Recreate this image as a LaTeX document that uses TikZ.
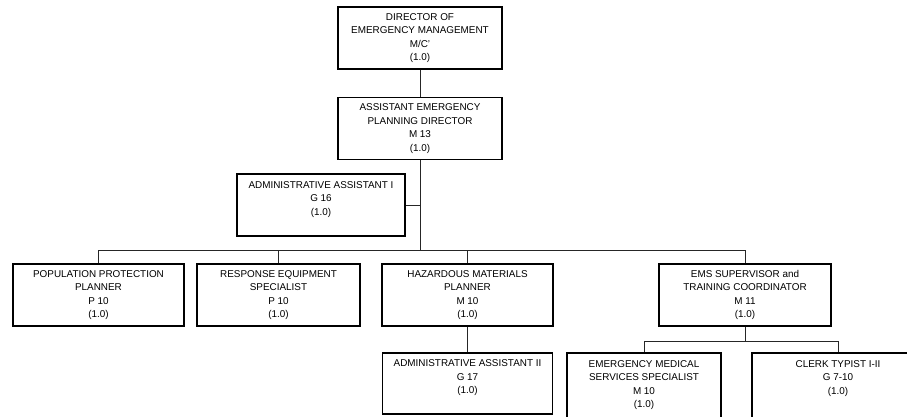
\documentclass[tikz,border=0pt]{standalone}
\usepackage{fontspec}
\setmainfont{Liberation Sans}
\begin{document}
\begin{tikzpicture}[x=1pt,y=1pt,
  box/.style={draw=black, line width=1.1pt, minimum height=62pt, align=center,
    inner sep=0pt, font=\fontsize{9.9}{13.5}\selectfont},
  link/.style={draw=black!85, line width=0.8pt}]
\useasboundingbox (0,0) rectangle (907,-416);
\begin{scope}
\clip (0,0) rectangle (907,-416);
% level 1 and 2
\node[box, minimum width=164pt] (dir) at (420,-38) {DIRECTOR OF\\EMERGENCY MANAGEMENT\\M/C'\\(1.0)};
\node[box, minimum width=164pt] (asst) at (420,-128.5) {ASSISTANT EMERGENCY\\PLANNING DIRECTOR\\M 13\\(1.0)};
\node[box, minimum width=168pt] (adm1) at (321,-205) {ADMINISTRATIVE ASSISTANT I\\G 16\\(1.0)\\\mbox{}};
% level 3
\node[box, minimum width=171pt] (pop) at (98.5,-295) {POPULATION PROTECTION\\PLANNER\\P 10\\(1.0)};
\node[box, minimum width=163pt] (resp) at (278.5,-295) {RESPONSE EQUIPMENT\\SPECIALIST\\P 10\\(1.0)};
\node[box, minimum width=171pt] (haz) at (467.5,-295) {HAZARDOUS MATERIALS\\PLANNER\\M 10\\(1.0)};
\node[box, minimum width=172pt] (ems) at (745,-295) {EMS SUPERVISOR and\\TRAINING COORDINATOR\\M 11\\(1.0)};
% level 4
\node[box, minimum width=170pt, minimum height=61pt] (adm2) at (467.5,-383.5) {ADMINISTRATIVE ASSISTANT II\\G 17\\(1.0)\\\mbox{}};
\node[box, minimum width=154pt, minimum height=76pt] (emt) at (644,-391) {EMERGENCY MEDICAL\\SERVICES SPECIALIST\\M 10\\(1.0)\\\mbox{}};
\node[box, minimum width=172pt, minimum height=76pt] (clerk) at (838,-391) {CLERK TYPIST I-II\\G 7-10\\(1.0)\\\mbox{}\\\mbox{}};
\end{scope}
% bus coordinates
\coordinate (bus) at (0,-250);
\coordinate (bus2) at (0,-341);
% connectors
\draw[link] (dir.south) -- (asst.north);
\draw[link] (asst.south) -- (asst.south |- bus);
\draw[link] (adm1.east) -- (adm1.east -| asst.south);
\draw[link] (pop.north) -- (pop.north |- bus) -| (ems.north);
\draw[link] (resp.north) -- (resp.north |- bus);
\draw[link] (haz.north) -- (haz.north |- bus);
\draw[link] (haz.south) -- (adm2.north);
\draw[link] (ems.south) -- (ems.south |- bus2);
\draw[link] (emt.north) -- (emt.north |- bus2) -| (clerk.north);
\end{tikzpicture}
\end{document}
